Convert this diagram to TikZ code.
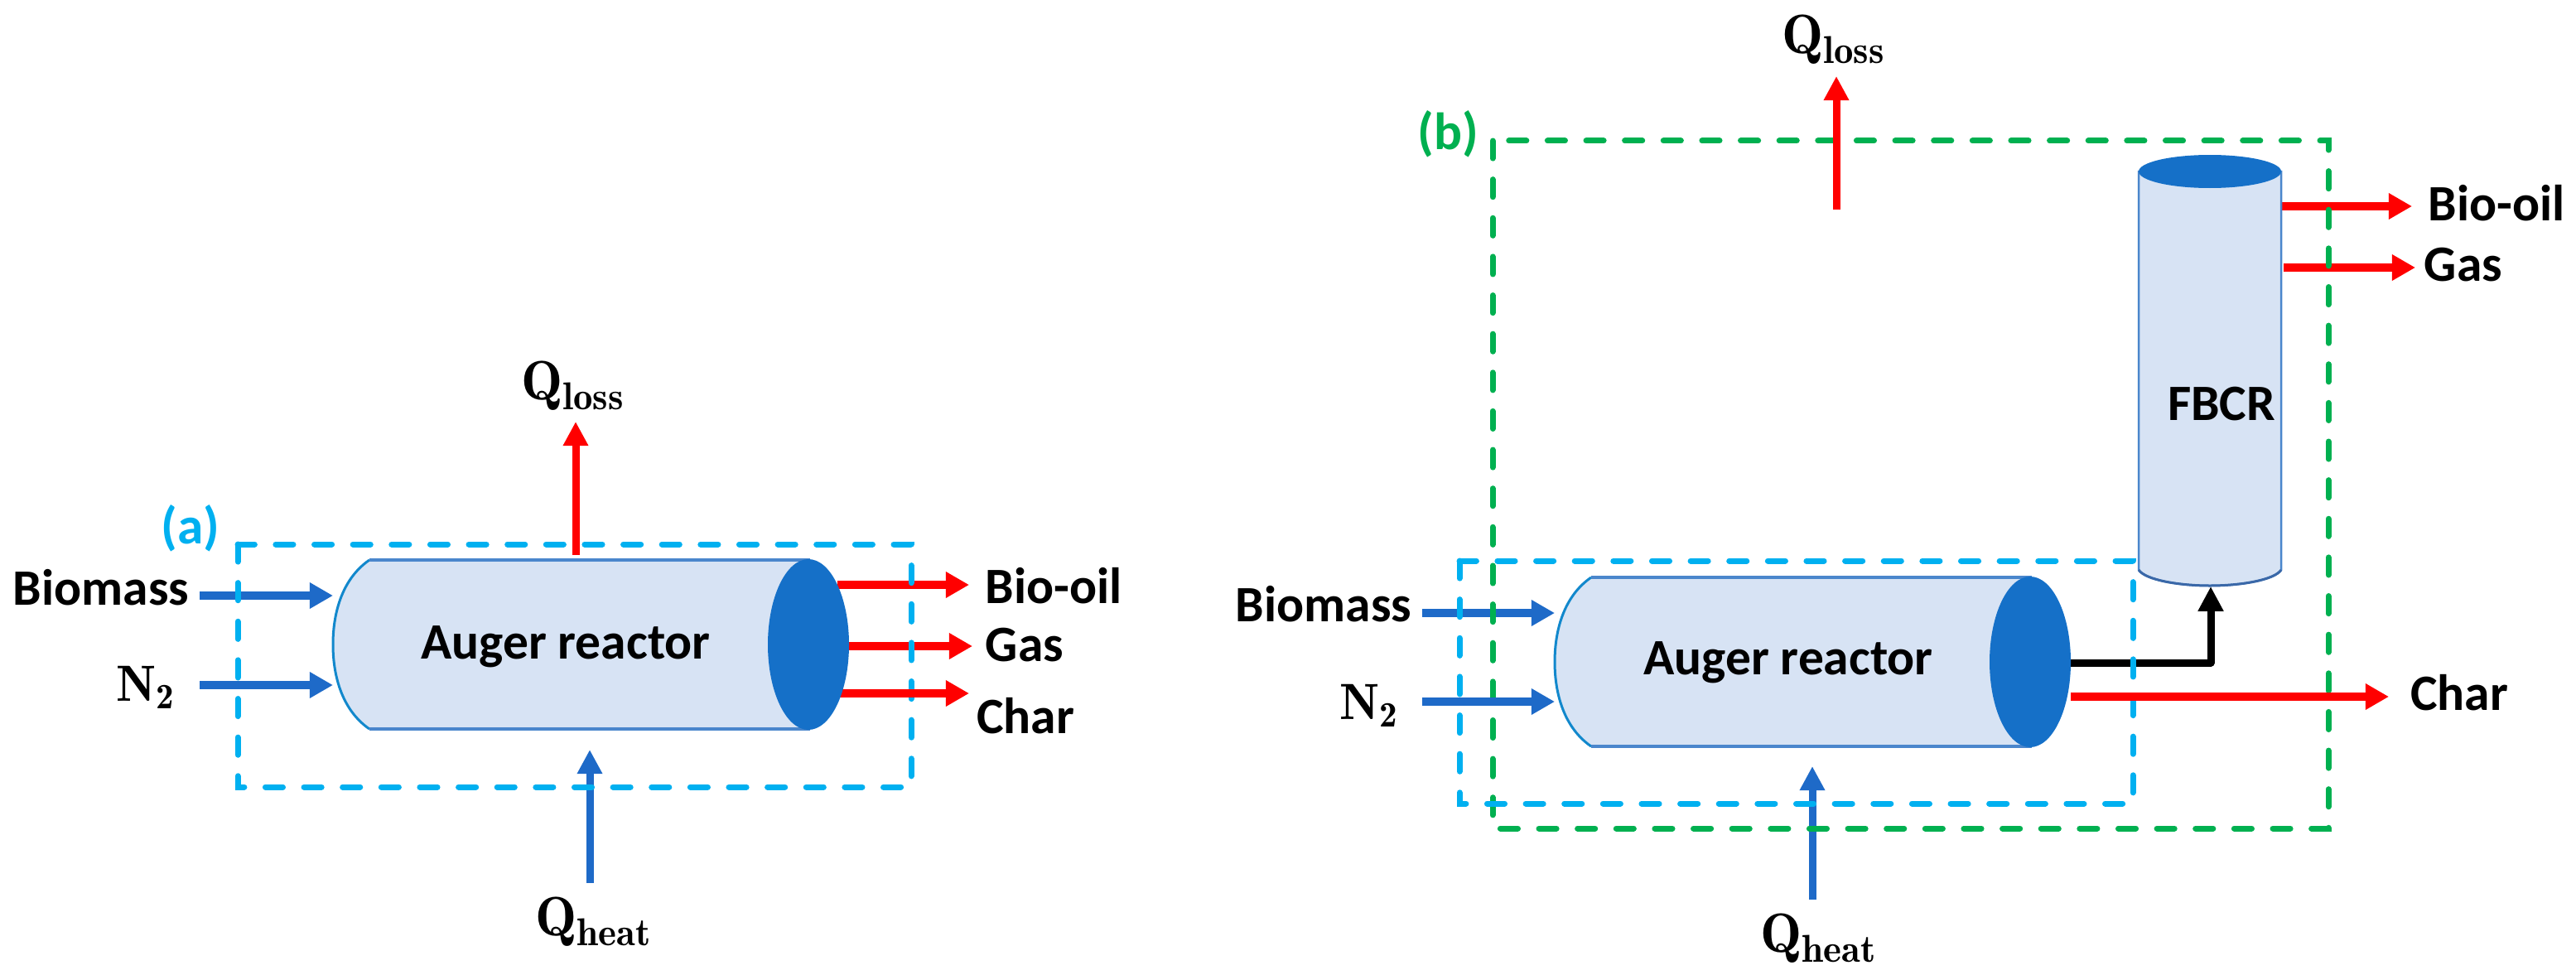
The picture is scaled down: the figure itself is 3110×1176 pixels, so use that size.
\documentclass[tikz,border=0pt]{standalone}
\usepackage{amsmath}
\usepackage{xcolor}
\usepackage{fontspec}
\newfontfamily\labelfont{Carlito}
\usetikzlibrary{arrows.meta,shapes.geometric}
\definecolor{bodyblue}{HTML}{D7E3F4}
\definecolor{endblue}{HTML}{1570C8}
\definecolor{edgeblue}{HTML}{4A86CC}
\definecolor{arcblue}{HTML}{1288CC}
\definecolor{footblue}{HTML}{3A68A8}
\definecolor{flowblue}{HTML}{1E6AC8}
\definecolor{dashblue}{HTML}{00B0F0}
\definecolor{dashgreen}{HTML}{00B050}
\newdimen\px
\px=0.01cm
\tikzset{
  txt/.style={font=\labelfont\bfseries\fontsize{17.5}{18}\selectfont,inner sep=0pt,text=black},
  heat/.style={font=\bfseries\fontsize{19}{20}\selectfont,inner sep=0pt,text=black},
  gasname/.style={font=\bfseries\fontsize{17.5}{20}\selectfont,inner sep=0pt,text=black},
  tag/.style={txt,font=\labelfont\bfseries\fontsize{18}{18}\selectfont},
  flowthick/.style={line width=9.5\px,-{Triangle[length=8pt,width=8.5pt]}},
  flowthin/.style={line width=9\px,-{Triangle[length=8.3pt,width=8.2pt]}},
  boxdash/.style={line width=7\px,line cap=round,dash pattern=on 6pt off 7.26pt},
}
\begin{document}
\begin{tikzpicture}[x=0.01cm,y=-0.01cm,line cap=butt]
  \useasboundingbox (0,0) rectangle (3110,1176);
% labels
  \node[txt] (biomassa) at (122,709) {Biomass};
  \node[gasname] (nitrogena) at (176,830) {$\mathbf{N_2}$};
  \node[heat] (lossa) at (692,466) {$\mathbf{Q_{loss}}$};
  \node[heat] (heata) at (717,1113) {$\mathbf{Q_{heat}}$};
  \node[txt] (oila) at (1272,707) {Bio-oil};
  \node[txt] (gasa) at (1237,779) {Gas};
  \node[txt] (chara) at (1238,864) {Char};
  \node[tag,text=dashblue] (taga) at (230,638) {(a)};
  \node[txt] (biomassb) at (1598,729) {Biomass};
  \node[gasname] (nitrogenb) at (1653,852) {$\mathbf{N_2}$};
  \node[heat] (lossb) at (2214,48) {$\mathbf{Q_{loss}}$};
  \node[heat] (heatb) at (2196,1133) {$\mathbf{Q_{heat}}$};
  \node[txt] (oilb) at (3014,245) {Bio-oil};
  \node[txt] (gasb) at (2974,320) {Gas};
  \node[txt] (charb) at (2969,836) {Char};
  \node[tag,text=dashgreen] (tagb) at (1748,162) {(b)};
% arrow ends
  \coordinate (bioain) at (241,719);   \coordinate (bioaout) at (402,719);
  \coordinate (nitain) at (241,827);   \coordinate (nitaout) at (402,827);
  \coordinate (lossain) at (695,670);  \coordinate (lossaout) at (695,509);
  \coordinate (heatain) at (712,1066); \coordinate (heataout) at (712,905);
  \coordinate (oilain) at (1011,706);  \coordinate (oilaout) at (1170,706);
  \coordinate (gasain) at (1013,780);  \coordinate (gasaout) at (1174,780);
  \coordinate (charain) at (1011,837); \coordinate (charaout) at (1170,837);
  \coordinate (biobin) at (1717,740);  \coordinate (biobout) at (1877,740);
  \coordinate (nitbin) at (1717,847);  \coordinate (nitbout) at (1877,847);
  \coordinate (lossbin) at (2217,253); \coordinate (lossbout) at (2217,92);
  \coordinate (heatbin) at (2188,1086);\coordinate (heatbout) at (2188,925);
  \coordinate (oilbin) at (2754,249);  \coordinate (oilbout) at (2912,249);
  \coordinate (gasbin) at (2757,323);  \coordinate (gasbout) at (2916,323);
  \coordinate (charbin) at (2500,841); \coordinate (charbout) at (2884,841);
  \coordinate (feedin) at (2498,800);  \coordinate (feedout) at (2669,708);
% flows
  \draw[flowthick,flowblue] (bioain) -- (bioaout);
  \draw[flowthick,flowblue] (biobin) -- (biobout);
  \draw[flowthin,flowblue] (heatain) -- (heataout);
  \draw[flowthin,flowblue] (heatbin) -- (heatbout);
  \draw[flowthick,red] (oilain) -- (oilaout);
  \draw[flowthick,red] (gasain) -- (gasaout);
  \draw[flowthick,red] (oilbin) -- (oilbout);
  \draw[flowthick,red] (gasbin) -- (gasbout);
  \draw[line width=9\px,-{Triangle[length=8.5pt,width=8.3pt]},black,line join=round] (feedin) -| (feedout);
% boundaries
  \draw[boxdash,dashblue] (287,657) rectangle (1100,950);
  \draw[boxdash,dashgreen] (1802,170) rectangle (2811,1000);
  \draw[boxdash,dashblue] (1762,677) rectangle (2575,970);
  \draw[flowthick,flowblue] (nitain) -- (nitaout);
  \draw[flowthick,flowblue] (nitbin) -- (nitbout);
  \draw[flowthick,red] (charain) -- (charaout);
  \draw[flowthick,red] (charbin) -- (charbout);
  \draw[flowthin,red] (lossain) -- (lossaout);
  \draw[flowthin,red] (lossbin) -- (lossbout);
% auger reactors
  \foreach \n/\x/\y in {a/976/778,b/2451/799} {
    \fill[bodyblue] ({\x+2},{\y-102}) -- ({\x-530},{\y-102})
      .. controls ({\x-562},{\y-80}) and ({\x-574},{\y-40}) .. ({\x-574},\y)
      .. controls ({\x-574},{\y+40}) and ({\x-562},{\y+80}) .. ({\x-530},{\y+102})
      -- ({\x+2},{\y+102}) -- cycle;
    \draw[line width=3\px,arcblue] ({\x-530},{\y-102})
      .. controls ({\x-562},{\y-80}) and ({\x-574},{\y-40}) .. ({\x-574},\y)
      .. controls ({\x-574},{\y+40}) and ({\x-562},{\y+80}) .. ({\x-530},{\y+102});
    \draw[line width=4\px,edgeblue] ({\x-530},{\y-102}) -- ({\x+2},{\y-102})
      ({\x-530},{\y+102}) -- ({\x+2},{\y+102});
    \node[ellipse,fill=endblue,inner sep=0pt,minimum width=98\px,minimum height=206\px] (end\n) at (\x,\y) {};
  }
  \node[txt] (augera) at (683,781) {Auger reactor};
  \node[txt] (augerb) at (2159,800) {Auger reactor};
% FBCR column
  \draw[line width=2.5\px,edgeblue,fill=bodyblue] (2582,207) -- (2582,688)
    .. controls (2590,700) and (2630,707) .. (2668,707)
    .. controls (2706,707) and (2746,700) .. (2754,688) -- (2754,207) -- cycle;
  \draw[line width=3\px,footblue] (2582,688)
    .. controls (2590,700) and (2630,707) .. (2668,707)
    .. controls (2706,707) and (2746,700) .. (2754,688);
  \node[ellipse,fill=endblue,inner sep=0pt,minimum width=172\px,minimum height=40\px] (fbcrtop) at (2668,207) {};
  \node[txt] (fbcr) at (2682,488) {FBCR};
\end{tikzpicture}
\end{document}
